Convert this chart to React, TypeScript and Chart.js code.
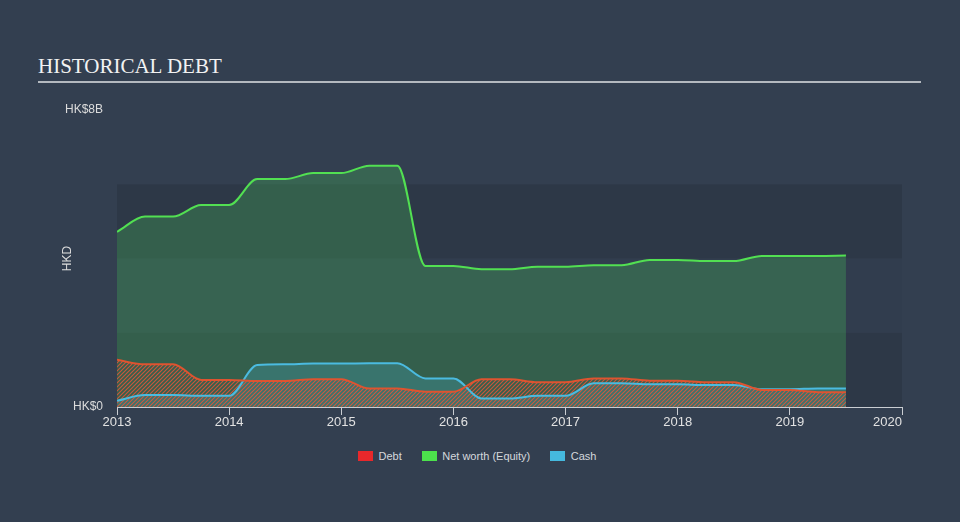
import React, { useEffect, useRef } from "react";
import { Chart, registerables } from "chart.js";
Chart.register(...registerables);

const periods = [
  2013, 2013.25, 2013.5, 2013.75, 2014, 2014.25, 2014.5, 2014.75, 2015, 2015.25,
  2015.5, 2015.75, 2016, 2016.25, 2016.5, 2016.75, 2017, 2017.25, 2017.5, 2017.75,
  2018, 2018.25, 2018.5, 2018.75, 2019, 2019.25, 2019.5,
];
const debtValues = [
  1.27, 1.15, 1.15, 0.73, 0.73, 0.7, 0.7, 0.75, 0.75, 0.5, 0.5, 0.41, 0.41, 0.75,
  0.75, 0.67, 0.67, 0.77, 0.77, 0.71, 0.71, 0.67, 0.67, 0.46, 0.46, 0.4, 0.4,
];
const equityValues = [
  4.72, 5.13, 5.13, 5.44, 5.44, 6.14, 6.14, 6.3, 6.3, 6.5, 6.5, 3.8, 3.8, 3.71,
  3.71, 3.78, 3.78, 3.82, 3.82, 3.96, 3.96, 3.93, 3.93, 4.07, 4.07, 4.07, 4.08,
];
const cashValues = [
  0.17, 0.32, 0.32, 0.3, 0.3, 1.13, 1.15, 1.17, 1.17, 1.18, 1.18, 0.77, 0.77, 0.23,
  0.23, 0.3, 0.3, 0.64, 0.64, 0.61, 0.61, 0.59, 0.59, 0.48, 0.48, 0.5, 0.5,
];
const yearTicks = [2013, 2014, 2015, 2016, 2017, 2018, 2019, 2020];
const yTickValues = [0, 8];
const yTickLabels = ["HK$0", "HK$8B"];
const bandEdges = [0, 2, 4, 6];
const seriesNames = ["Debt", "Net worth (Equity)", "Cash"];
const legendColors = ["#e8282b", "#4ce24c", "#45b9de"];

const FONT = '"Liberation Sans", Arial, Helvetica, sans-serif';

export default function App() {
  const ref = useRef<HTMLCanvasElement>(null);

  useEffect(() => {
    document.body.style.margin = "0";
    document.body.style.background = "#333f50";
    const canvas = ref.current!;
    const tile = document.createElement("canvas");
    tile.width = 4;
    tile.height = 4;
    const tctx = tile.getContext("2d")!;
    tctx.strokeStyle = "rgba(232,86,56,0.85)";
    tctx.lineWidth = 1.1;
    tctx.beginPath();
    tctx.moveTo(0, 4);
    tctx.lineTo(4, 0);
    tctx.moveTo(-1, 1);
    tctx.lineTo(1, -1);
    tctx.moveTo(3, 5);
    tctx.lineTo(5, 3);
    tctx.stroke();
    const hatch = canvas.getContext("2d")!.createPattern(tile, "repeat");

    const toPts = (vals: number[]) => periods.map((x, i) => ({ x, y: vals[i] }));

    const bands = {
      id: "bands",
      beforeDraw(chart: any) {
        const { ctx, chartArea, scales } = chart;
        const y = scales.y;
        const alphas = [0.1, 0.025, 0.1];
        ctx.save();
        for (let i = 0; i < bandEdges.length - 1; i++) {
          const top = y.getPixelForValue(bandEdges[i + 1]);
          const bottom = y.getPixelForValue(bandEdges[i]);
          ctx.fillStyle = `rgba(0,0,0,${alphas[i]})`;
          ctx.fillRect(chartArea.left, top, chartArea.right - chartArea.left, bottom - top);
        }
        ctx.restore();
      },
    };

    Chart.defaults.font.family = FONT;

    const chart = new Chart(canvas, {
      type: "line",
      data: {
        datasets: [
          {
            label: seriesNames[0],
            data: toPts(debtValues),
            borderColor: "#de5430",
            backgroundColor: hatch as any,
            fill: "origin",
            order: 1,
          },
          {
            label: seriesNames[1],
            data: toPts(equityValues),
            borderColor: "#52e052",
            backgroundColor: "rgba(72,200,90,0.27)",
            fill: "origin",
            order: 3,
          },
          {
            label: seriesNames[2],
            data: toPts(cashValues),
            borderColor: "#4bbbe0",
            backgroundColor: "rgba(72,184,220,0.23)",
            fill: "origin",
            order: 2,
          },
        ],
      },
      options: {
        animation: false,
        responsive: false,
        devicePixelRatio: 1,
        layout: { padding: { left: 0, right: 58, top: 110, bottom: 1 } },
        elements: {
          point: { radius: 0 },
          line: { borderWidth: 2, cubicInterpolationMode: "monotone" },
        },
        plugins: {
          legend: { display: false },
          tooltip: { enabled: false },
          filler: { drawTime: "beforeDatasetsDraw" },
        } as any,
        scales: {
          x: {
            type: "linear",
            min: 2013,
            max: 2020,
            afterBuildTicks: (s: any) => {
              s.ticks = yearTicks.map((v) => ({ value: v }));
            },
            afterFit: (s: any) => {
              s.height = 32;
            },
            grid: {
              display: true,
              drawOnChartArea: false,
              drawTicks: true,
              tickLength: 8,
              color: "#c9cdd2",
            },
            border: { display: true, color: "#c9cdd2", width: 1 },
            ticks: {
              color: "#e2e2e2",
              font: { size: 13, family: FONT },
              padding: 0,
              maxRotation: 0,
              autoSkip: false,
              callback: (v: any) =>
                Number(v) === 2020 ? String(v) + "        " : String(v),
            },
          },
          y: {
            min: 0,
            max: 8,
            afterBuildTicks: (s: any) => {
              s.ticks = yTickValues.map((v) => ({ value: v }));
            },
            afterFit: (s: any) => {
              s.width = 117;
            },
            grid: { display: false, drawTicks: false },
            border: { display: false },
            ticks: {
              color: "#dcdcdc",
              font: { size: 12, family: FONT },
              padding: 14,
              callback: (v: any) => yTickLabels[yTickValues.indexOf(Number(v))] ?? "",
            },
            title: {
              display: true,
              text: "HKD",
              color: "#dcdcdc",
              font: { size: 12, family: FONT },
              padding: { top: 60, bottom: 0 },
            },
          },
        },
      } as any,
      plugins: [bands],
    });
    return () => chart.destroy();
  }, []);

  return (
    <div
      style={{
        position: "relative",
        width: 960,
        height: 522,
        background: "#333f50",
        overflow: "hidden",
      }}
    >
      <div
        style={{
          position: "absolute",
          left: 38,
          top: 56,
          fontFamily: '"Liberation Serif", "Times New Roman", serif',
          fontSize: 21,
          lineHeight: "21px",
          color: "#f2f2f2",
          whiteSpace: "nowrap",
        }}
      >
        HISTORICAL DEBT
      </div>
      <div
        style={{
          position: "absolute",
          left: 38,
          top: 81,
          width: 883,
          height: 2,
          background: "#b4b9bf",
        }}
      />
      <canvas
        ref={ref}
        width={960}
        height={440}
        style={{ position: "absolute", left: 0, top: 0, width: 960, height: 440 }}
      />
      <div
        style={{
          position: "absolute",
          left: 358,
          top: 449,
          height: 14,
          display: "flex",
          alignItems: "center",
          fontFamily: FONT,
          fontSize: 11,
          color: "#d5d8dc",
          whiteSpace: "nowrap",
        }}
      >
        {seriesNames.map((name, i) => (
          <div
            key={name}
            style={{ display: "flex", alignItems: "center", marginRight: i < 2 ? 20 : 0 }}
          >
            <span
              style={{
                display: "inline-block",
                width: 15,
                height: 10,
                background: legendColors[i],
                marginRight: 5.5,
              }}
            />
            <span>{name}</span>
          </div>
        ))}
      </div>
    </div>
  );
}
